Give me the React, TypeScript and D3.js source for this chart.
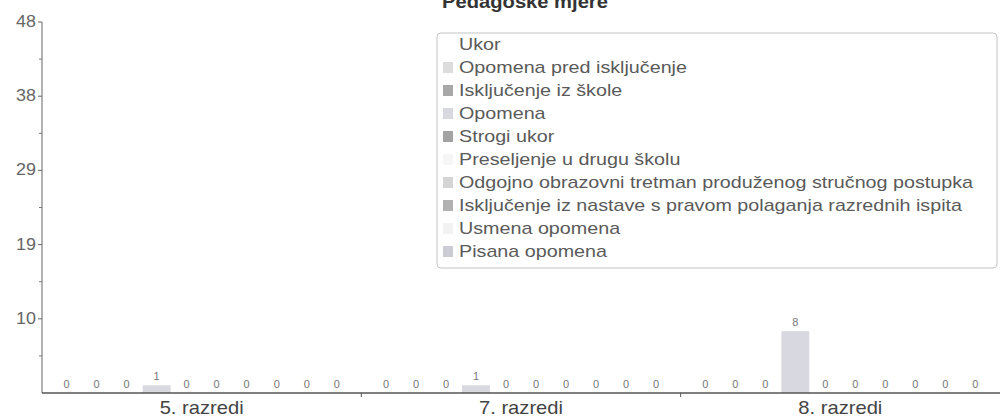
import { useEffect, useRef } from "react"
import * as d3 from "d3"

// groups on the x axis
const groups = ["5. razredi", "7. razredi", "8. razredi"]

// one series per disciplinary measure (legend order)
const series = [
  "Ukor",
  "Opomena pred isključenje",
  "Isključenje iz škole",
  "Opomena",
  "Strogi ukor",
  "Preseljenje u drugu školu",
  "Odgojno obrazovni tretman produženog stručnog postupka",
  "Isključenje iz nastave s pravom polaganja razrednih ispita",
  "Usmena opomena",
  "Pisana opomena",
]

// values per group, in series order
const values5 = [0, 0, 0, 1, 0, 0, 0, 0, 0, 0]
const values7 = [0, 0, 0, 1, 0, 0, 0, 0, 0, 0]
const values8 = [0, 0, 0, 8, 0, 0, 0, 0, 0, 0]

const seriesColors = [
  "#ffffff", "#dcdcdc", "#a9a9a9", "#d8d8e0", "#a3a3a3",
  "#f6f6f6", "#d4d4d4", "#b2b2b2", "#f2f2f2", "#ccccd4",
]

const yMax = 48
const yTicks = [0, 9.6, 19.2, 28.8, 38.4, 48]

export default function App() {
  const svgRef = useRef<SVGSVGElement>(null)

  useEffect(() => {
    if (!svgRef.current) return
    const width = 1001
    const height = 419
    const margin = { top: 22, right: 1, bottom: 26, left: 42 }
    const plotBottom = height - margin.bottom

    const svg = d3.select(svgRef.current)
    svg.selectAll("*").remove()
    svg.attr("width", width).attr("height", height)
      .style("font-family", "'Liberation Sans', Arial, sans-serif")

    const data = [values5, values7, values8]

    const x0 = d3.scaleBand<string>()
      .domain(groups)
      .range([margin.left, width - margin.right])
      .paddingInner(0)

    const x1 = d3.scaleBand<string>()
      .domain(series)
      .range([0, x0.bandwidth()])
      .paddingInner(0.07)
      .paddingOuter(0.355)

    const y = d3.scaleLinear().domain([0, yMax]).range([plotBottom, margin.top])

    // title (mostly cut off at top, as in the scan)
    svg.append("text")
      .attr("transform", "translate(525,8) scale(1.12,1)")
      .attr("text-anchor", "middle")
      .attr("font-size", 18)
      .attr("font-weight", "bold")
      .attr("fill", "#333")
      .text("Pedagoške mjere")

    // bars + value labels
    const g = svg.selectAll("g.group")
      .data(data)
      .join("g")
      .attr("class", "group")
      .attr("transform", (_, i) => `translate(${x0(groups[i])},0)`)

    g.selectAll("rect")
      .data(d => d)
      .join("rect")
      .attr("x", (_, i) => x1(series[i]) ?? 0)
      .attr("y", d => y(d))
      .attr("width", x1.bandwidth())
      .attr("height", d => plotBottom - y(d))
      .attr("fill", (_, i) => seriesColors[i])

    g.selectAll("text")
      .data(d => d)
      .join("text")
      .attr("x", (_, i) => (x1(series[i]) ?? 0) + x1.bandwidth() / 2)
      .attr("y", d => y(d) - 5)
      .attr("text-anchor", "middle")
      .attr("font-size", 11)
      .attr("fill", "#777")
      .text(d => d)

    // y axis
    const yAxis = svg.append("g")
    yAxis.append("line")
      .attr("x1", margin.left).attr("x2", margin.left)
      .attr("y1", margin.top).attr("y2", plotBottom)
      .attr("stroke", "#666")
    const minor = yTicks.slice(0, -1).map((t, i) => (t + yTicks[i + 1]) / 2)
    yAxis.selectAll("line.major")
      .data(yTicks.slice(1))
      .join("line")
      .attr("class", "major")
      .attr("x1", margin.left - 4).attr("x2", margin.left)
      .attr("y1", d => y(d)).attr("y2", d => y(d))
      .attr("stroke", "#666")
    yAxis.selectAll("line.minor")
      .data(minor)
      .join("line")
      .attr("class", "minor")
      .attr("x1", margin.left - 3).attr("x2", margin.left)
      .attr("y1", d => y(d)).attr("y2", d => y(d))
      .attr("stroke", "#777")
    yAxis.selectAll("text")
      .data(yTicks.slice(1))
      .join("text")
      .attr("transform", d => `translate(${margin.left - 6},${y(d) + 5}) scale(1.12,1)`)
      .attr("text-anchor", "end")
      .attr("font-size", 16)
      .attr("fill", "#666")
      .text(d => Math.round(d))

    // x axis
    const xAxis = svg.append("g")
    xAxis.append("line")
      .attr("x1", margin.left).attr("x2", width - margin.right)
      .attr("y1", plotBottom).attr("y2", plotBottom)
      .attr("stroke", "#555")
      .attr("stroke-width", 1.5)
    xAxis.selectAll("line.tick")
      .data(groups.slice(1))
      .join("line")
      .attr("class", "tick")
      .attr("x1", d => x0(d) ?? 0).attr("x2", d => x0(d) ?? 0)
      .attr("y1", plotBottom).attr("y2", plotBottom + 4)
      .attr("stroke", "#555")
    xAxis.selectAll("text")
      .data(groups)
      .join("text")
      .attr("transform", d => `translate(${(x0(d) ?? 0) + x0.bandwidth() / 2},${plotBottom + 21}) scale(1.12,1)`)
      .attr("text-anchor", "middle")
      .attr("font-size", 18)
      .attr("fill", "#444")
      .text(d => d)

    // legend
    const lg = svg.append("g").attr("transform", "translate(437,33)")
    lg.append("rect")
      .attr("width", 560).attr("height", 235)
      .attr("rx", 4)
      .attr("fill", "#fff")
      .attr("stroke", "#c4c4c4")
    const item = lg.selectAll("g.item")
      .data(series)
      .join("g")
      .attr("class", "item")
      .attr("transform", (_, i) => `translate(0,${11 + i * 23})`)
    item.append("rect")
      .attr("x", 6).attr("y", -5)
      .attr("width", 10).attr("height", 11)
      .attr("fill", (_, i) => seriesColors[i])
    item.append("text")
      .attr("transform", "translate(22,6) scale(1.16,1)")
      .attr("font-size", 17)
      .attr("fill", "#5a5a5a")
      .text(d => d)
  }, [])

  return (
    <div style={{ position: "absolute", left: 0, top: 0 }}>
      <svg ref={svgRef} style={{ display: "block" }} />
    </div>
  )
}
